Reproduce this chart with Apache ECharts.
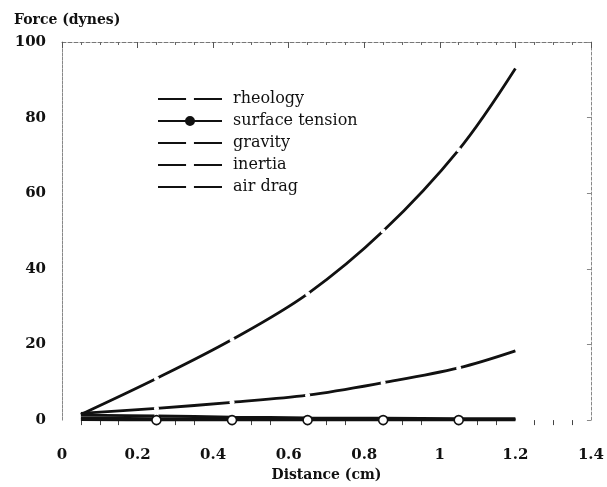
<!DOCTYPE html>
<html>
<head>
<meta charset="utf-8">
<script src="https://cdn.jsdelivr.net/npm/echarts@6/dist/echarts.min.js"></script>
<style>
  html, body { margin: 0; padding: 0; background: #fff; }
  #chart { width: 607px; height: 487px; }
</style>
</head>
<body>
<div id="chart"></div>
<script>
// distance along the spinline (cm)
const distance = [0.05, 0.25, 0.45, 0.65, 0.85, 1.05, 1.2]

// force values (dynes)
const rheology = [1.5, 11, 21.3, 33.4, 50, 71.5, 93]
const surfaceTension = [0.1, 0, 0, 0, 0, 0, 0]
const gravity = [1.3, 1.1, 0.8, 0.6, 0.5, 0.4, 0.4]
const inertia = [1.8, 3.1, 4.7, 6.6, 9.9, 13.8, 18.3]
const airDrag = [0.6, 0.4, 0.3, 0.3, 0.2, 0.2, 0.2]

const xTicks = [0, 0.2, 0.4, 0.6, 0.8, 1, 1.2, 1.4]
const yTicks = [0, 20, 40, 60, 80, 100]

const FONT = "DejaVu Serif"
const INK = "#111"

// markers only on the inner points, ends are plain line
function pts(values) {
  return distance.map((x, i) => {
    const p = { value: [x, values[i]] }
    if (i === 0 || i === distance.length - 1) p.symbol = "none"
    return p
  })
}

function gapSeries(name, values) {
  return {
    name,
    type: "line",
    data: pts(values),
    smooth: 0.35,
    symbol: "circle",
    symbolSize: 5,
    showAllSymbol: true,
    lineStyle: { color: INK, width: 2.8 },
    itemStyle: { color: "#fff", borderWidth: 0 },
    z: 3,
  }
}

const chart = echarts.init(document.getElementById("chart"))

chart.setOption({
  animation: false,
  backgroundColor: "#fff",
  grid: { left: 62, right: 16, top: 42, bottom: 63 },
  title: [
    {
      text: "Force (dynes)",
      left: 9,
      top: 8,
      textStyle: { fontFamily: FONT, fontSize: 14, fontWeight: "bold", color: INK },
    },
  ],
  legend: {
    orient: "vertical",
    left: 152,
    top: 86,
    itemWidth: 64,
    itemHeight: 10,
    itemGap: 6,
    textStyle: { fontFamily: FONT, fontSize: 16, color: INK, padding: [0, 0, 0, 6] },
    data: [
      "rheology",
      { name: "surface tension", itemStyle: { color: INK, borderColor: INK } },
      "gravity",
      "inertia",
      "air drag",
    ],
  },
  xAxis: [
    {
      type: "value",
      min: 0,
      max: 1.4,
      interval: 0.2,
      name: "Distance (cm)",
      nameLocation: "middle",
      nameGap: 47,
      nameTextStyle: { fontFamily: FONT, fontSize: 14, fontWeight: "bold", color: INK },
      axisLine: { show: false },
      axisTick: { show: false },
      minorTick: { show: true, splitNumber: 4, length: 5, inside: true, lineStyle: { color: "#444", width: 1 } },
      splitLine: { show: false },
      axisLabel: {
        fontFamily: FONT,
        fontSize: 15,
        fontWeight: "bold",
        color: INK,
        margin: 28,
        formatter: (v) => (xTicks.includes(+v.toFixed(1)) ? String(+v.toFixed(1)) : ""),
      },
    },
    {
      type: "value",
      position: "top",
      min: 0,
      max: 1.4,
      interval: 0.2,
      axisLine: { show: true, onZero: false, lineStyle: { color: "#777", width: 1, type: [4, 2] } },
      axisTick: { show: true, inside: true, length: 6, lineStyle: { color: "#555" } },
      minorTick: { show: true, splitNumber: 4, length: 3, lineStyle: { color: "#666" } },
      axisLabel: { show: false },
      splitLine: { show: false },
    },
  ],
  yAxis: [
    {
      type: "value",
      min: 0,
      max: 100,
      interval: 20,
      axisLine: { show: true, onZero: false, lineStyle: { color: "#888", width: 1, type: [3, 1] } },
      axisTick: { show: false },
      splitLine: { show: false },
      axisLabel: {
        fontFamily: FONT,
        fontSize: 15,
        fontWeight: "bold",
        color: INK,
        margin: 16,
        padding: [8, 0, 0, 0],
        formatter: (v) => (yTicks.includes(v) ? String(v) : ""),
      },
    },
    {
      type: "value",
      position: "right",
      min: 0,
      max: 100,
      interval: 20,
      axisLine: { show: true, onZero: false, lineStyle: { color: "#888", width: 1, type: [3, 2] } },
      axisTick: { show: true, inside: true, length: 4, lineStyle: { color: "#888" } },
      axisLabel: { show: false },
      splitLine: { show: false },
    },
  ],
  series: [
    gapSeries("rheology", rheology),
    {
      name: "surface tension",
      type: "line",
      data: pts(surfaceTension),
      smooth: 0.35,
      symbol: "circle",
      symbolSize: 9,
      showAllSymbol: true,
      lineStyle: { color: INK, width: 2.8 },
      itemStyle: { color: "#fff", borderColor: INK, borderWidth: 1.6 },
      z: 5,
    },
    gapSeries("gravity", gravity),
    gapSeries("inertia", inertia),
    gapSeries("air drag", airDrag),
  ],
})
</script>
</body>
</html>
